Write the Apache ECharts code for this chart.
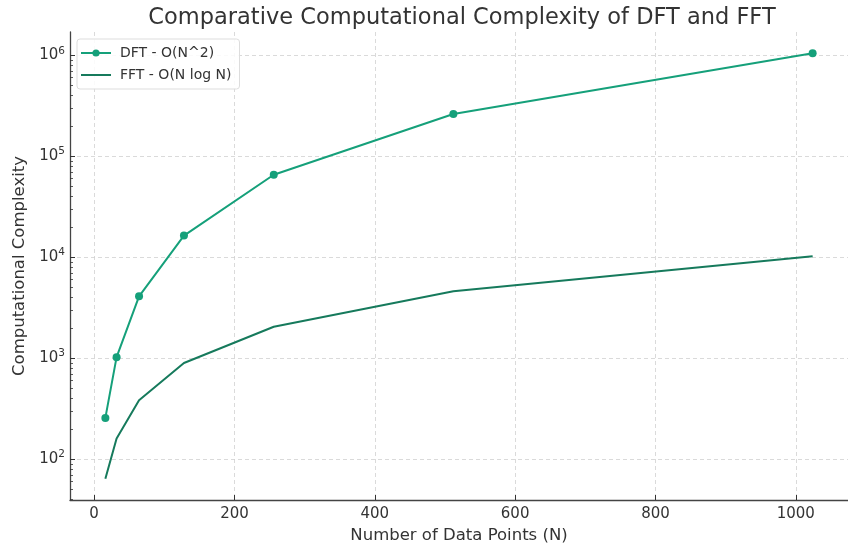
<!DOCTYPE html>
<html>
<head>
<meta charset="utf-8">
<script src="https://cdn.jsdelivr.net/npm/echarts@6/dist/echarts.min.js"></script>
<style>
  html, body { margin: 0; padding: 0; background: #fff; }
  #chart { width: 848px; height: 546px; }
</style>
</head>
<body>
<div id="chart"></div>
<script>
'use strict';

// data
const nPoints = [16, 32, 64, 128, 256, 512, 1024];
const dftOps = [256, 1024, 4096, 16384, 65536, 262144, 1048576];
const fftOps = [64, 160, 384, 896, 2048, 4608, 10240];

const xTicks = [0, 200, 400, 600, 800, 1000];
const yTicks = [100, 1000, 10000, 100000, 1000000];
const yMinorTicks = [
    40, 50, 60, 70, 80, 90,
    200, 300, 400, 500, 600, 700, 800, 900,
    2000, 3000, 4000, 5000, 6000, 7000, 8000, 9000,
    20000, 30000, 40000, 50000, 60000, 70000, 80000, 90000,
    200000, 300000, 400000, 500000, 600000, 700000, 800000, 900000,
];

const font = 'DejaVu Sans';
const ink = '#333';
const dftColor = '#15a07a';
const fftColor = '#167a5c';

const chart = echarts.init(document.getElementById('chart'));

const pairs = arr => nPoints.map((n, i) => [n, arr[i]]);

const yBase = {
    type: 'log',
    logBase: 10,
    min: 39.4,
    max: 1700000,
    position: 'left',
};

chart.setOption({
    animation: false,
    title: {
        text: 'Comparative Computational Complexity of DFT and FFT',
        left: 457,
        textAlign: 'center',
        top: 2,
        textStyle: { fontFamily: font, fontSize: 22.5, fontWeight: 'normal', color: ink },
    },
    legend: {
        left: 77,
        top: 39,
        orient: 'vertical',
        itemWidth: 30,
        itemHeight: 9,
        itemGap: 8,
        padding: [7, 8, 7, 3],
        borderColor: '#ddd',
        borderWidth: 1,
        borderRadius: 3,
        backgroundColor: 'rgba(255,255,255,0.85)',
        textStyle: { fontFamily: font, fontSize: 14, color: ink, padding: [0, 0, 0, 4] },
        data: [
            { name: 'DFT - O(N^2)' },
            { name: 'FFT - O(N log N)', icon: 'path://M0,0L30,0L30,2L0,2Z' },
        ],
    },
    grid: { left: 70, right: 0, top: 32, bottom: 46, outerBoundsMode: 'none' },
    xAxis: {
        type: 'value',
        min: -34.4,
        max: 1074.4,
        axisLine: { onZero: false, lineStyle: { color: '#444', width: 1.3 } },
        axisTick: { inside: true, length: 5, customValues: xTicks, lineStyle: { color: ink } },
        axisLabel: {
            customValues: xTicks,
            formatter: v => String(v),
            fontFamily: font, fontSize: 15, color: ink, margin: 7,
        },
        splitLine: { show: true, lineStyle: { color: '#d0d0d0', type: [4, 3], width: 0.8 } },
        name: 'Number of Data Points (N)',
        nameLocation: 'middle',
        nameGap: 26,
        nameTextStyle: { fontFamily: font, fontSize: 16.5, color: ink },
    },
    yAxis: [
        Object.assign({}, yBase, {
            axisLine: { show: true, onZero: false, lineStyle: { color: '#444', width: 1.3 } },
            axisTick: { show: true, inside: true, length: 5, customValues: yTicks, lineStyle: { color: ink } },
            axisLabel: {
                customValues: yTicks,
                margin: 5,
                formatter: v => '{b|10}{s|' + Math.round(Math.log10(v)) + '}',
                rich: {
                    b: { fontFamily: font, fontSize: 15, color: ink },
                    s: { fontFamily: font, fontSize: 10.5, color: ink, padding: [0, 0, 9, 0] },
                },
            },
            splitLine: { show: true, lineStyle: { color: '#d0d0d0', type: [4, 3], width: 0.8 } },
            name: 'Computational Complexity',
            nameLocation: 'middle',
            nameGap: 41,
            nameTextStyle: { fontFamily: font, fontSize: 16.5, color: ink },
        }),
        Object.assign({}, yBase, {
            axisLine: { show: false, onZero: false },
            axisTick: { show: true, inside: true, length: 3, customValues: yMinorTicks, lineStyle: { color: ink, width: 0.8 } },
            axisLabel: { show: false },
            splitLine: { show: false },
        }),
    ],
    series: [
        {
            name: 'DFT - O(N^2)',
            type: 'line',
            data: pairs(dftOps),
            symbol: 'circle',
            symbolSize: 8,
            itemStyle: { color: dftColor },
            lineStyle: { color: dftColor, width: 2 },
        },
        {
            name: 'FFT - O(N log N)',
            type: 'line',
            data: pairs(fftOps),
            showSymbol: false,
            itemStyle: { color: fftColor },
            lineStyle: { color: fftColor, width: 2 },
        },
    ],
});
</script>
</body>
</html>
